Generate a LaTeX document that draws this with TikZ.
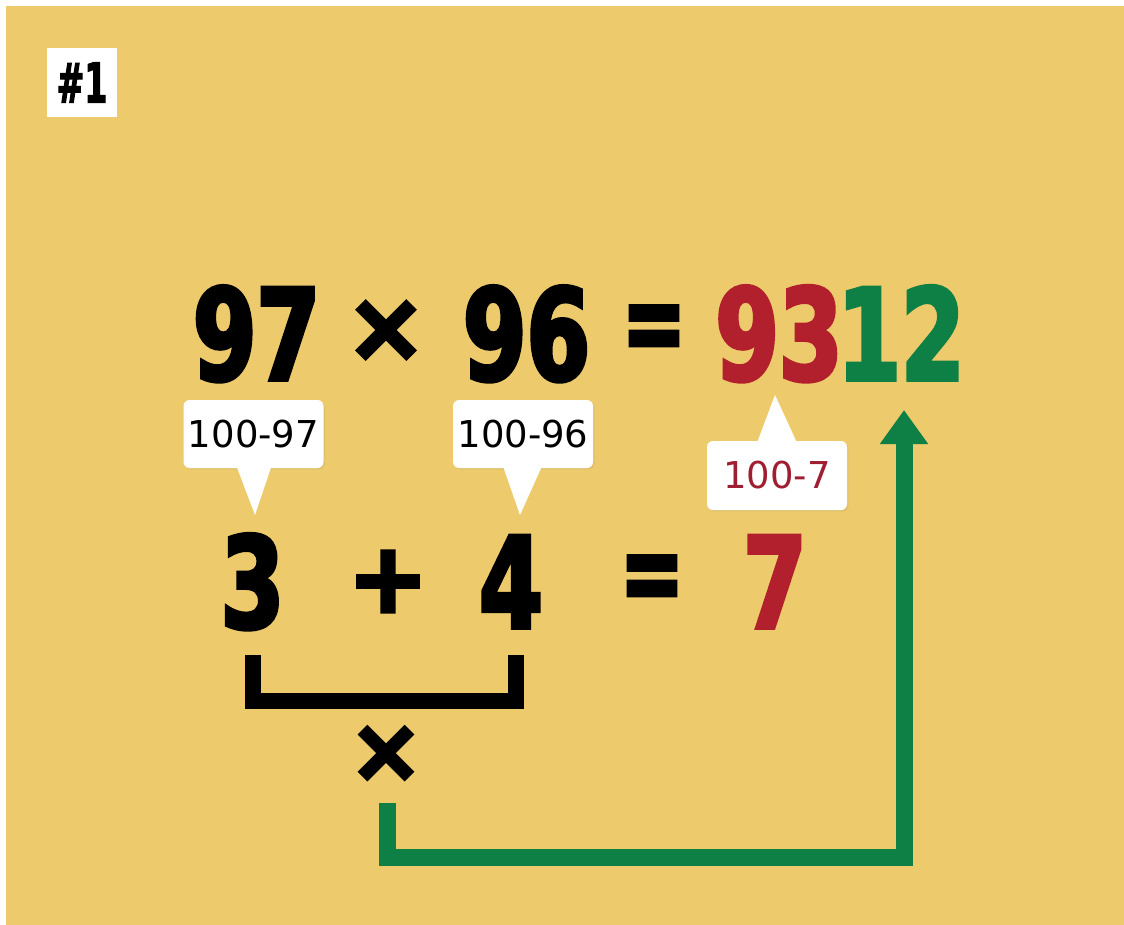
\documentclass[tikz,border=0pt]{standalone}
\usepackage{fontspec}
\usetikzlibrary{arrows.meta,shadows}
\newfontfamily\bigfont[FakeStretch=0.72,FakeBold=3]{DejaVu Sans}
\newfontfamily\tagfont[FakeStretch=0.6,FakeBold=2]{DejaVu Sans}
\newfontfamily\symfont[FakeBold=4]{DejaVu Sans}
\newfontfamily\lblfont{DejaVu Sans}
\definecolor{bg}{RGB}{237,202,107}
\definecolor{myred}{RGB}{178,32,45}
\definecolor{mygreen}{RGB}{14,128,70}
\definecolor{lblred}{RGB}{160,30,50}
\tikzset{
  bignum/.style={font=\bigfont\bfseries\fontsize{127}{127}\selectfont, inner sep=0pt, anchor=base},
  bigsym/.style={font=\symfont\bfseries\fontsize{96}{96}\selectfont, inner sep=0pt, anchor=center},
  eqsym/.style={font=\symfont\bfseries\fontsize{76}{76}\selectfont, inner sep=0pt, anchor=center},
  balloon/.style={fill=white, rounded corners=6pt, inner sep=0pt, minimum width=140pt, minimum height=68pt,
     font=\lblfont\fontsize{37}{37}\selectfont, drop shadow={opacity=0.12, shadow xshift=1.5pt, shadow yshift=-1.5pt}},
  pointer/.style={fill=white},
  tagbox/.style={fill=white, inner sep=0pt, minimum width=70pt, minimum height=69pt,
     font=\tagfont\bfseries\fontsize{55}{55}\selectfont},
  bracket/.style={line width=16pt, line join=miter, draw=black},
  garrow/.style={line width=17pt, line join=miter, draw=mygreen, -{Triangle[width=46pt,length=34pt]}}
}
\begin{document}
\begin{tikzpicture}[x=1pt,y=-1pt]
\useasboundingbox (0,0) rectangle (1124,925);
\fill[white] (0,0) rectangle (1124,925);
\fill[bg] (6,6) rectangle (1124,925);

% tag
\node[tagbox] (tag) at (82,82.5) {\#1};

% row 1
\node[bignum] (n97) at (256.5,380) {97};
\node[bigsym] (times1) at (386,331) {×};
\node[bignum] (n96) at (526.5,380) {96};
\node[eqsym] (eq1) at (654,334) {\scalebox{1}[1.5]{=}};
\node[bignum, text=myred] (n93) at (779,380) {93};
\node[bignum, text=mygreen] (n12) at (901,380) {12};

% balloons
\node[balloon] (b1) at (253.5,434) {100-97};
\fill[pointer] ([xshift=-17pt,yshift=2pt]b1.south) -- ([xshift=18pt,yshift=2pt]b1.south) -- (255,515) -- cycle;
\node[balloon] (b2) at (523,434) {100-96};
\fill[pointer] ([xshift=-20pt,yshift=2pt]b2.south) -- ([xshift=19pt,yshift=2pt]b2.south) -- (520,515) -- cycle;
\node[balloon, minimum height=69pt, text=lblred] (b3) at (777,475.5) {100-7};
\fill[pointer] ([xshift=-20pt,yshift=-2pt]b3.north) -- ([xshift=20pt,yshift=-2pt]b3.north) -- (775,395) -- cycle;

% row 2
\node[bignum] (n3) at (252.5,628) {3};
\node[bigsym] (plus) at (388,581.5) {+};
\node[bignum] (n4) at (511,628) {4};
\node[eqsym] (eq2) at (652,584) {\scalebox{1}[1.5]{=}};
\node[bignum, text=myred] (n7) at (775,628) {7};

% bracket and multiplication
\coordinate (bl) at (253,655);
\coordinate (br) at (516,655);
\draw[bracket] (bl) -- (253,701) -- (516,701) -- (br);
\node[bigsym, font=\symfont\bfseries\fontsize{88}{88}\selectfont] (times2) at (386,754) {×};

% green arrow
\coordinate (gs) at (387,803);
\coordinate (gc) at (904,857);
\coordinate (ge) at (904,410);
\draw[garrow] (gs) |- (gc) -- (ge);
\end{tikzpicture}
\end{document}
